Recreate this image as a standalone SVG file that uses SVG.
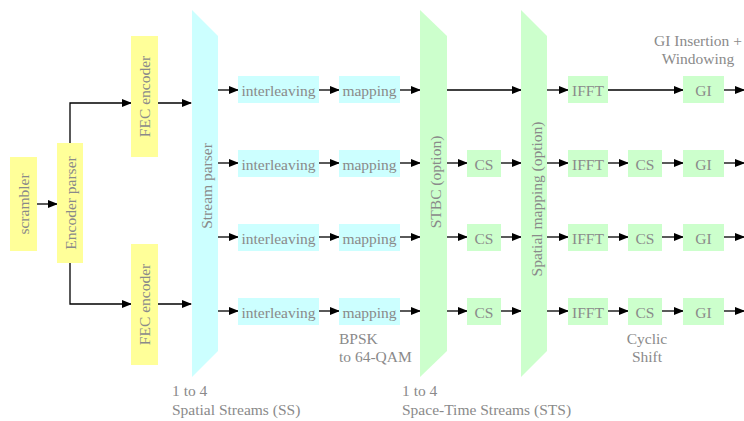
<svg xmlns="http://www.w3.org/2000/svg" width="744" height="421" viewBox="0 0 744 421" font-family="Liberation Serif, Times New Roman, serif" font-size="15.5">
<style>
text{fill:#8a8a8a}
.c{text-anchor:middle;dominant-baseline:central}
.y{fill:#ffff99}
.b{fill:#ccffff}
.g{fill:#ccffcc}
.w{stroke:#000;stroke-width:1.3;fill:none;marker-end:url(#a)}
</style>
<defs>
<marker id="a" markerWidth="10" markerHeight="8" refX="9" refY="4" orient="auto" markerUnits="userSpaceOnUse">
<path d="M0,0 L10,4 L0,8 Z" fill="#000"/>
</marker>
</defs>
<rect width="744" height="421" fill="#fff"/>
<g id="connectors">
<path class="w" d="M37,204 H57"/>
<path class="w" d="M70,143 V103 H131"/>
<path class="w" d="M70,263 V304 H131"/>
<path class="w" d="M158,103 H191"/>
<path class="w" d="M158,304 H191"/>
<path class="w" d="M218,90 H238"/>
<path class="w" d="M218,163 H238"/>
<path class="w" d="M218,237 H238"/>
<path class="w" d="M218,311 H238"/>
<path class="w" d="M319,90 H339"/>
<path class="w" d="M319,163 H339"/>
<path class="w" d="M319,237 H339"/>
<path class="w" d="M319,311 H339"/>
<path class="w" d="M400,90 H420"/>
<path class="w" d="M400,163 H420"/>
<path class="w" d="M400,237 H420"/>
<path class="w" d="M400,311 H420"/>
<path class="w" d="M447,90 H521"/>
<path class="w" d="M447,163 H467"/>
<path class="w" d="M447,237 H467"/>
<path class="w" d="M447,311 H467"/>
<path class="w" d="M501,163 H521"/>
<path class="w" d="M501,237 H521"/>
<path class="w" d="M501,311 H521"/>
<path class="w" d="M547,90 H568"/>
<path class="w" d="M547,163 H568"/>
<path class="w" d="M547,237 H568"/>
<path class="w" d="M547,311 H568"/>
<path class="w" d="M608,90 H683"/>
<path class="w" d="M608,163 H628"/>
<path class="w" d="M608,237 H628"/>
<path class="w" d="M608,311 H628"/>
<path class="w" d="M662,163 H683"/>
<path class="w" d="M662,237 H683"/>
<path class="w" d="M662,311 H683"/>
<path class="w" d="M724,90 H744"/>
<path class="w" d="M724,163 H744"/>
<path class="w" d="M724,237 H744"/>
<path class="w" d="M724,311 H744"/>
</g>
<g id="scrambler"><rect class="y" x="10" y="157" width="27" height="94"/><text class="c" transform="translate(23.5,204) rotate(-90)">scrambler</text></g>
<g id="encoder-parser"><rect class="y" x="57" y="143" width="26" height="120"/><text class="c" transform="translate(70,203) rotate(-90)">Encoder parser</text></g>
<g id="fec1"><rect class="y" x="131" y="36" width="27" height="121"/><text class="c" transform="translate(144.5,96.5) rotate(-90)">FEC encoder</text></g>
<g id="fec2"><rect class="y" x="131" y="244" width="27" height="121"/><text class="c" transform="translate(144.5,304.5) rotate(-90)">FEC encoder</text></g>
<g id="stream-parser"><polygon class="b" points="192,10 218,36 218,351 192,377"/><text class="c" transform="translate(206,186) rotate(-90)">Stream parser</text></g>
<g id="interleaving1"><rect class="b" x="238" y="76" width="81" height="27"/><text class="c" x="278.5" y="90">interleaving</text></g>
<g id="interleaving2"><rect class="b" x="238" y="150" width="81" height="27"/><text class="c" x="278.5" y="164">interleaving</text></g>
<g id="interleaving3"><rect class="b" x="238" y="224" width="81" height="27"/><text class="c" x="278.5" y="238">interleaving</text></g>
<g id="interleaving4"><rect class="b" x="238" y="298" width="81" height="27"/><text class="c" x="278.5" y="312">interleaving</text></g>
<g id="mapping1"><rect class="b" x="339" y="76" width="61" height="27"/><text class="c" x="369.5" y="90">mapping</text></g>
<g id="mapping2"><rect class="b" x="339" y="150" width="61" height="27"/><text class="c" x="369.5" y="164">mapping</text></g>
<g id="mapping3"><rect class="b" x="339" y="224" width="61" height="27"/><text class="c" x="369.5" y="238">mapping</text></g>
<g id="mapping4"><rect class="b" x="339" y="298" width="61" height="27"/><text class="c" x="369.5" y="312">mapping</text></g>
<g id="stbc"><polygon class="g" points="420,10 447,36 447,351 420,377"/><text class="c" transform="translate(435,182) rotate(-90)">STBC (option)</text></g>
<g id="cs-a2"><rect class="g" x="467" y="150" width="34" height="27"/><text class="c" x="484" y="164">CS</text></g>
<g id="cs-a3"><rect class="g" x="467" y="224" width="34" height="27"/><text class="c" x="484" y="238">CS</text></g>
<g id="cs-a4"><rect class="g" x="467" y="298" width="34" height="27"/><text class="c" x="484" y="312">CS</text></g>
<g id="spatial-mapping"><polygon class="g" points="521,10 547,36 547,351 521,377"/><text class="c" transform="translate(536,199) rotate(-90)">Spatial mapping (option)</text></g>
<g id="ifft1"><rect class="g" x="568" y="76" width="40" height="27"/><text class="c" x="588" y="90">IFFT</text></g>
<g id="ifft2"><rect class="g" x="568" y="150" width="40" height="27"/><text class="c" x="588" y="164">IFFT</text></g>
<g id="ifft3"><rect class="g" x="568" y="224" width="40" height="27"/><text class="c" x="588" y="238">IFFT</text></g>
<g id="ifft4"><rect class="g" x="568" y="298" width="40" height="27"/><text class="c" x="588" y="312">IFFT</text></g>
<g id="cs-b2"><rect class="g" x="628" y="150" width="34" height="27"/><text class="c" x="645" y="164">CS</text></g>
<g id="cs-b3"><rect class="g" x="628" y="224" width="34" height="27"/><text class="c" x="645" y="238">CS</text></g>
<g id="cs-b4"><rect class="g" x="628" y="298" width="34" height="27"/><text class="c" x="645" y="312">CS</text></g>
<g id="gi1"><rect class="g" x="683" y="76" width="41" height="27"/><text class="c" x="703.5" y="90">GI</text></g>
<g id="gi2"><rect class="g" x="683" y="150" width="41" height="27"/><text class="c" x="703.5" y="164">GI</text></g>
<g id="gi3"><rect class="g" x="683" y="224" width="41" height="27"/><text class="c" x="703.5" y="238">GI</text></g>
<g id="gi4"><rect class="g" x="683" y="298" width="41" height="27"/><text class="c" x="703.5" y="312">GI</text></g>
<g id="labels">
<text x="339" y="344">BPSK</text>
<text x="339" y="362">to 64-QAM</text>
<text x="172" y="396">1 to 4</text>
<text x="172" y="415">Spatial Streams (SS)</text>
<text x="402" y="396">1 to 4</text>
<text x="402" y="415">Space-Time Streams (STS)</text>
<text x="698" y="46" text-anchor="middle">GI Insertion +</text>
<text x="698" y="64" text-anchor="middle">Windowing</text>
<text x="647" y="344" text-anchor="middle">Cyclic</text>
<text x="647" y="362" text-anchor="middle">Shift</text>
</g>
</svg>
